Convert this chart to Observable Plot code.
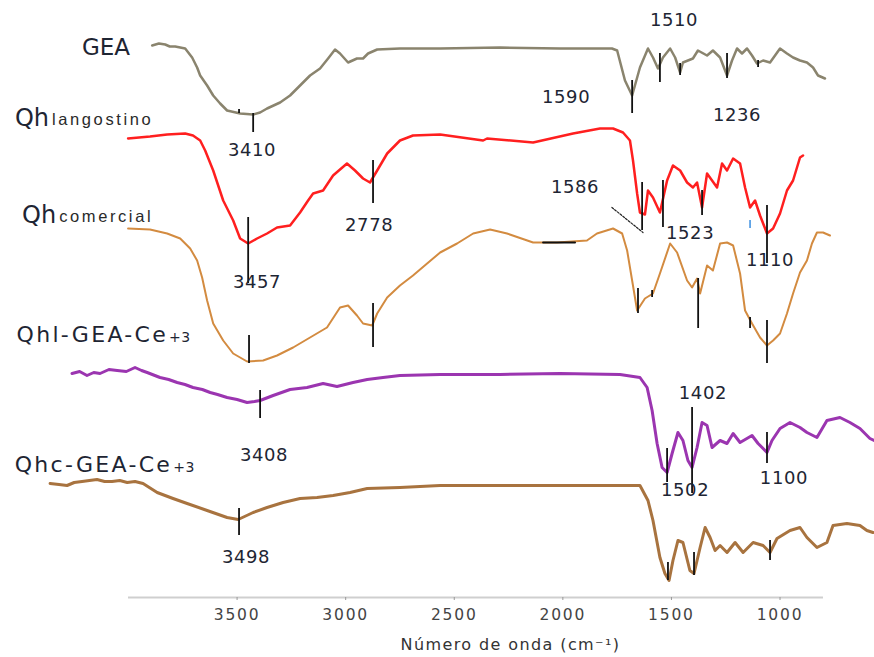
<!DOCTYPE html>
<html>
<head>
<meta charset="utf-8">
<script src="https://cdn.jsdelivr.net/npm/d3@7"></script>
<script src="https://cdn.jsdelivr.net/npm/@observablehq/plot@0.6"></script>
<style>
  html, body { margin: 0; padding: 0; background: #ffffff; }
  svg { overflow: visible; }
</style>
</head>
<body>
<div id="chart"></div>
<script>
// ---- Data (wavenumber cm-1, transmittance a.u. stacked) ----
const xTicks = [3500, 3000, 2500, 2000, 1500, 1000];
const axisSpan = [4000, 800];
const xTitle = "Número de onda (cm⁻¹)";

const gea = [[3891,552],[3860,554],[3831,553],[3810,551],[3785,551],[3739,549],[3707,540],[3684,530],[3670,522],[3638,512],[3610,502],[3578,494],[3546,487],[3486,484],[3426,483],[3394,485],[3362,489],[3302,495],[3256,502],[3210,512],[3164,522],[3118,529],[3081,539],[3049,548],[3026,544],[2989,535],[2948,539],[2920,539],[2897,544],[2855,548],[2750,549],[2565,549],[2289,550],[2013,549],[1774,549],[1750,547],[1714,517],[1681,502],[1645,530],[1608,549],[1585,540],[1562,529],[1539,540],[1506,549],[1483,540],[1460,525],[1447,535],[1401,539],[1378,547],[1336,542],[1309,547],[1276,540],[1244,522],[1221,537],[1198,549],[1175,544],[1152,549],[1129,542],[1106,534],[1078,537],[1046,535],[1023,542],[1000,549],[968,544],[940,540],[908,537],[876,535],[848,530],[825,522],[793,519]];

const qhLangostino = [[4002,459],[3901,461],[3822,463],[3739,464],[3703,462],[3670,457],[3647,447],[3610,427],[3564,397],[3518,377],[3486,359],[3449,354],[3408,359],[3362,364],[3316,370],[3256,372],[3210,385],[3173,397],[3150,404],[3104,407],[3058,422],[2994,434],[2957,427],[2920,419],[2888,415],[2855,427],[2809,444],[2750,457],[2690,462],[2565,463],[2367,457],[2349,459],[2137,455],[1953,464],[1829,469],[1769,469],[1723,465],[1691,457],[1677,437],[1658,404],[1645,385],[1622,383],[1608,407],[1585,400],[1553,385],[1520,417],[1493,432],[1460,427],[1428,415],[1401,410],[1382,415],[1359,390],[1336,424],[1313,417],[1290,410],[1267,434],[1244,427],[1216,439],[1184,434],[1161,410],[1138,390],[1115,397],[1092,382],[1060,364],[1032,369],[1000,384],[968,407],[940,417],[908,440],[894,442]];

const qhComercial = [[4002,369],[3901,368],[3822,364],[3762,359],[3716,349],[3684,337],[3661,320],[3638,297],[3610,274],[3564,257],[3518,244],[3454,236],[3380,237],[3316,242],[3242,250],[3164,260],[3086,270],[3026,290],[2989,292],[2948,282],[2920,274],[2878,272],[2855,284],[2809,300],[2750,312],[2690,322],[2625,334],[2565,345],[2487,354],[2413,364],[2335,368],[2257,364],[2137,355],[2027,355],[1889,357],[1843,364],[1769,369],[1727,364],[1704,347],[1681,317],[1658,287],[1622,299],[1585,304],[1553,324],[1506,354],[1474,345],[1428,317],[1405,310],[1382,319],[1368,304],[1336,332],[1309,327],[1276,354],[1244,355],[1216,352],[1184,324],[1161,287],[1129,274],[1092,260],[1060,252],[1032,257],[1000,264],[968,284],[940,304],[908,325],[876,337],[853,354],[830,365],[802,365],[770,362]];

const qhlGeaCe = [[4260,224],[4225,226],[4191,222],[4160,225],[4131,224],[4090,228],[4052,227],[4010,226],[3970,230],[3940,227],[3914,225],[3855,220],[3815,218],[3776,215],[3740,213],[3703,210],[3660,208],[3624,205],[3590,203],[3546,200],[3500,198],[3454,195],[3420,196],[3394,197],[3334,202],[3256,208],[3178,210],[3104,214],[3040,211],[2966,215],[2901,218],[2828,220],[2750,222],[2565,223],[2289,223],[2013,224],[1737,223],[1645,220],[1612,210],[1589,187],[1566,154],[1543,130],[1520,125],[1497,144],[1470,165],[1447,157],[1424,137],[1405,130],[1382,150],[1359,175],[1336,172],[1313,150],[1276,157],[1244,154],[1216,164],[1184,155],[1129,162],[1101,154],[1060,145],[1037,157],[1000,169],[954,175],[908,170],[876,165],[830,160],[784,177],[724,180],[678,175],[632,169],[586,159],[567,157]];

const qhcGeaCe = [[4361,114],[4320,113],[4283,112],[4250,115],[4214,116],[4180,117],[4145,118],[4110,116],[4076,116],[4040,117],[4006,115],[3970,116],[3933,114],[3868,105],[3795,99],[3730,94],[3638,87],[3546,80],[3495,78],[3426,85],[3362,90],[3288,95],[3210,99],[3132,100],[3058,102],[2980,105],[2901,109],[2750,110],[2565,112],[2289,112],[2013,112],[1645,112],[1608,97],[1585,77],[1553,40],[1530,24],[1511,17],[1493,37],[1470,57],[1447,55],[1415,27],[1396,24],[1368,50],[1345,70],[1322,60],[1299,47],[1276,52],[1244,45],[1207,55],[1170,45],[1124,55],[1078,52],[1046,45],[1014,59],[954,67],[908,70],[876,60],[830,50],[784,55],[756,72],[692,74],[632,72],[600,67],[572,65]];

const seriesData = [gea, qhLangostino, qhComercial, qhlGeaCe, qhcGeaCe];
const seriesNames = ["GEA", "Qh", "Qh", "Qhl-GEA-Ce", "Qhc-GEA-Ce"];
const seriesSubs = ["", "langostino", "comercial", "+3", "+3"];
const labelWn = [3993, 4366, 4333, 3818, 3799];
const labelT = [543, 472, 375, 256, 126];
const seriesColors = ["#8a846e", "#ff1f1f", "#d38b40", "#9b35b0", "#a8733f"];
const seriesWidths = [2.5, 2.5, 2, 3, 3];

// annotation ticks on the peaks: [wavenumber, from, to]
const peakMarks = [
  [3426,484,465],[3491,488,484],[1681,517,484],[1553,544,515],[1460,534,522],[1244,544,519],[1101,537,530],
  [3449,380,314],[2874,437,394],[1635,415,367],[1539,417,370],[1359,407,382],[1060,392,334],
  [3445,262,234],[2874,294,250],[1654,309,284],[1589,307,300],[1377,319,269],[1138,280,269],[1060,277,234],
  [3394,207,179],[1520,149,115],[1405,190,104],[1060,165,134],
  [3491,89,62],[1516,35,17],[1396,45,22],[1046,57,37]
];
const peakLabels = [["3410",3431,447],["1510",1488,577],["1590",1985,500],["1236",1198,482],["2778",2892,372],["3457",3408,315],["1586",1944,410],["1523",1414,364],["1110",1046,337],["3408",3376,142],["1402",1355,204],["1502",1437,107],["1100",982,119],["3498",3459,40]];
const leader = [[1774,390],[1631,365]];
const bar = [[2091,355],[1944,355]];
const blueMark = [[1138,377,369]];

// ---- Build ----
const seriesRows = seriesData.flatMap((arr, i) => arr.map(([wn, t]) => ({wn, t, s: i})));
const labels = seriesNames.map((name, i) => ({name, sub: seriesSubs[i], wn: labelWn[i], t: labelT[i], i}));
const textColor = "#1e2533";

const marks = [
  Plot.ruleY([0], {x1: axisSpan[0], x2: axisSpan[1], stroke: "#cfcfcf", strokeWidth: 2}),
  Plot.axisX({ticks: xTicks, tickSize: 3, tickPadding: 8, fontSize: 15.5, fill: "#444", stroke: "#999", tickFormat: d => String(d), label: null}),
  Plot.text([xTitle], {text: d => d, frameAnchor: "bottom", dy: 52, dx: 9, fontSize: 16, fill: "#333"}),
];
seriesData.forEach((arr, i) => {
  marks.push(Plot.line(arr, {x: d => d[0], y: d => d[1], stroke: seriesColors[i], strokeWidth: seriesWidths[i], strokeLinejoin: "round"}));
});
marks.push(
  Plot.ruleX(peakMarks, {x: d => d[0], y1: d => d[1], y2: d => d[2], stroke: "#111", strokeWidth: 1.8}),
  Plot.ruleX(blueMark, {x: d => d[0], y1: d => d[1], y2: d => d[2], stroke: "#3a8ee0", strokeWidth: 1.5}),
  Plot.line(leader, {x: d => d[0], y: d => d[1], stroke: "#222", strokeWidth: 1.2, strokeDasharray: "2,1.5"}),
  Plot.line(bar, {x: d => d[0], y: d => d[1], stroke: "#111", strokeWidth: 2}),
  Plot.text(peakLabels, {x: d => d[1], y: d => d[2], text: d => d[0], fontSize: 18, fill: textColor}),
  Plot.text(labels.filter(d => d.i === 0), {x: "wn", y: "t", text: "name", textAnchor: "end", lineAnchor: "bottom", fontSize: 23, fill: textColor}),
  Plot.text(labels.filter(d => d.i === 1 || d.i === 2), {x: "wn", y: "t", text: "name", textAnchor: "end", lineAnchor: "bottom", fontSize: 24, fill: textColor}),
  Plot.text(labels.filter(d => d.i === 1 || d.i === 2), {x: "wn", y: "t", text: "sub", textAnchor: "start", lineAnchor: "bottom", dx: 3, dy: -1, fontSize: 16.5, fill: "#2a2a2a", fontFamily: "Liberation Sans"}),
  Plot.text(labels.filter(d => d.i >= 3), {x: "wn", y: "t", text: "name", textAnchor: "end", lineAnchor: "bottom", fontSize: 22, fill: textColor}),
  Plot.text(labels.filter(d => d.i >= 3), {x: "wn", y: "t", text: "sub", textAnchor: "start", lineAnchor: "bottom", dx: 1, fontSize: 14, fill: textColor})
);

const svg = Plot.plot({
  width: 874,
  height: 657,
  marginLeft: 128,
  marginRight: 0,
  marginTop: 0,
  marginBottom: 60,
  x: {domain: [4000, 565], axis: null},
  y: {domain: [0, 597], axis: null},
  style: {fontFamily: "DejaVu Sans", background: "#ffffff", overflow: "visible"},
  marks
});

const spacing = {"22": "2.3px", "16.5": "2.6px", "18": "0.6px", "15.5": "1.8px", "16": "1.4px", "14": "0.5px"};
svg.querySelectorAll("g[font-size]").forEach(g => {
  const s = spacing[g.getAttribute("font-size")];
  if (s) g.style.letterSpacing = s;
});
document.getElementById("chart").appendChild(svg);
</script>
</body>
</html>
